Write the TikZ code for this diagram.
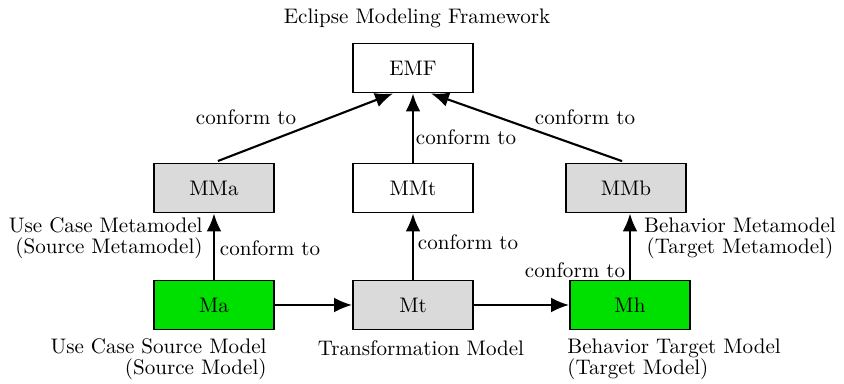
\documentclass[tikz,border=0pt]{standalone}
\usetikzlibrary{arrows.meta,calc}
\definecolor{boxgray}{RGB}{218,218,218}
\definecolor{boxgreen}{RGB}{0,224,0}
\tikzset{
  mbox/.style={draw=black, line width=0.9pt, minimum width=57pt, minimum height=23.3pt, inner sep=0pt, font=\normalsize},
  graybox/.style={mbox, fill=boxgray},
  greenbox/.style={mbox, fill=boxgreen},
  whitebox/.style={mbox, fill=white},
  conn/.style={line width=1pt, -{Latex[length=8.5pt,width=7pt]}},
  lbl/.style={inner sep=0pt, font=\normalsize, align=center},
}
\begin{document}
\begin{tikzpicture}[x=0.475pt, y=-0.475pt]
\useasboundingbox (0,0) rectangle (844,384);
% title
\node[lbl] (title) at (417,18) {Eclipse Modeling Framework};
% boxes
\node[whitebox] (EMF) at (413,68) {EMF};
\node[graybox] (MMa) at (214,188) {MMa};
\node[whitebox] (MMt) at (413,188) {MMt};
\node[graybox] (MMb) at (626,188) {MMb};
\node[greenbox] (Ma) at (214,305) {Ma};
\node[graybox] (Mt) at (413,305) {Mt};
\node[greenbox] (Mh) at (630,305) {Mh};
% upper connectors
\draw[conn, shorten <=2pt] (MMa.north) -- ($(EMF.south)+(-20,0)$);
\draw[conn] (MMt.north) -- (EMF.south);
\draw[conn, shorten <=2pt] (MMb.north) -- ($(EMF.south)+(18,0)$);
% lower connectors
\draw[conn] (Ma.north) -- (MMa.south);
\draw[conn] (Mt.north) -- (MMt.south);
\draw[conn] (Mh.north) -- (MMb.south -| Mh.north);
\draw[conn] (Ma.east) -- (Mt.west);
\draw[conn] (Mt.east) -- (Mh.west);
% connector labels
\node[lbl] (c1) at (246,117) {conform to};
\node[lbl] (c2) at (466,137) {conform to};
\node[lbl] (c3) at (585,117) {conform to};
\node[lbl] (c4) at (270,248) {conform to};
\node[lbl] (c5) at (468,242) {conform to};
\node[lbl] (c6) at (575,270) {conform to};
% descriptions
\node[lbl, align=right, anchor=east] (dMMa) at (203,238) {Use Case Metamodel\\[-2pt](Source Metamodel)};
\node[lbl] (dMMb) at (740,238) {Behavior Metamodel\\[-2pt](Target Metamodel)};
\node[lbl, align=right, anchor=east] (dMa) at (267,359) {Use Case Source Model\\[-2pt](Source Model)};
\node[lbl] (dMt) at (421,348) {Transformation Model};
\node[lbl, align=left, anchor=west] (dMh) at (567,359) {Behavior Target Model\\[-2pt](Target Model)};
\end{tikzpicture}
\end{document}
